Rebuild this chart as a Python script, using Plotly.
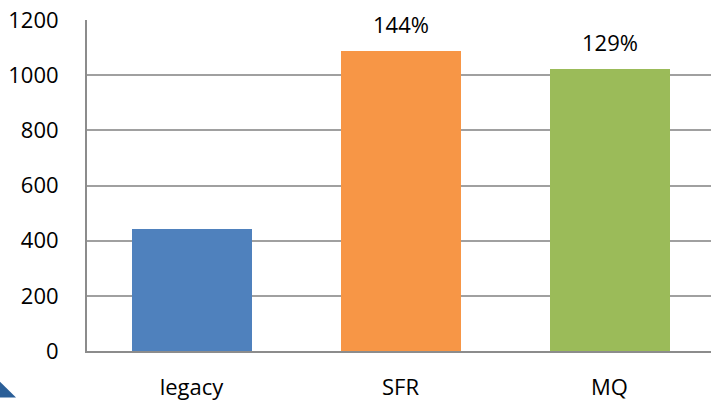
import plotly.graph_objects as go

categories = ["legacy", "SFR", "MQ"]
values = [444, 1089, 1021]
colors = ["#4F81BD", "#F79646", "#9BBB59"]
labels = ["", "144%", "129%"]
y_ticks = [0, 200, 400, 600, 800, 1000, 1200]

W, H = 711, 401
ml, mt, mb, mr = 87, 20, 46, 0
pw, ph = W - ml - mr, H - mt - mb


def px(x):
    return (x - ml) / pw


def py(y):
    return (H - mb - y) / ph


fig = go.Figure()
fig.add_trace(go.Bar(
    x=categories, y=values, marker=dict(color=colors, line=dict(width=0)),
    width=120 / 209, showlegend=False,
))

for c, v, t in zip(categories, values, labels):
    if t:
        fig.add_annotation(x=c, y=v, text=t, showarrow=False, yshift=27,
                           font=dict(family="Open Sans", size=22, color="#000000"))

# small decorative corner wedge (bottom-left)
fig.add_shape(type="path", xref="paper", yref="paper",
              path=f"M {px(0)} {py(386)} L {px(16)} {py(402)} L {px(0)} {py(402)} Z",
              fillcolor="#2B5F98", line=dict(width=0), layer="above")

fig.update_layout(
    width=W, height=H,
    margin=dict(l=ml, r=mr, t=mt, b=mb, pad=0),
    paper_bgcolor="white", plot_bgcolor="white",
    font=dict(family="Open Sans", size=22, color="#000000"),
    bargap=0,
    xaxis=dict(range=[-0.5, 2.5 - 3 / 209], showgrid=False, showline=True,
               linecolor="#8C8C8C", linewidth=2, ticks="", ticklabelstandoff=16,
               tickfont=dict(size=22), fixedrange=True),
    yaxis=dict(range=[0, 1200], tickvals=y_ticks, showgrid=True,
               gridcolor="#A0A0A0", gridwidth=2, showline=True,
               linecolor="#8C8C8C", linewidth=2, ticks="", ticklabelstandoff=22,
               zeroline=False, tickfont=dict(size=22), fixedrange=True),
)

fig.write_html("out.html")
